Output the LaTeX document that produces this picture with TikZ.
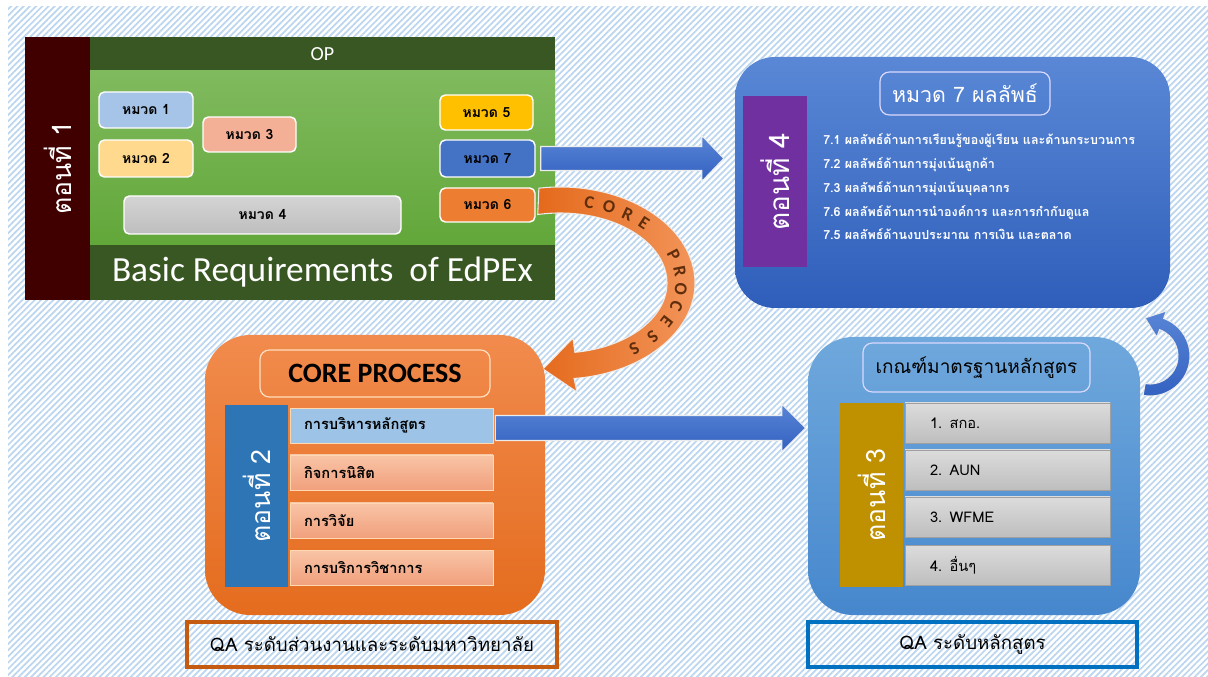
\documentclass[tikz,border=0pt]{standalone}
\usepackage{fontspec}
\setmainfont{Carlito}
\newfontfamily\thai[Script=Thai]{Loma}
\usetikzlibrary{patterns.meta,calc}
\definecolor{hatch}{RGB}{188,214,240}
\definecolor{maroonA}{RGB}{64,0,0}
\definecolor{dkgreen}{RGB}{56,87,35}
\definecolor{lgreenA}{RGB}{128,186,94}
\definecolor{lgreenB}{RGB}{98,167,58}
\definecolor{mA}{RGB}{166,196,232}
\definecolor{mB}{RGB}{255,217,142}
\definecolor{mC}{RGB}{244,176,151}
\definecolor{mDa}{RGB}{212,212,212}
\definecolor{mDb}{RGB}{190,190,190}
\definecolor{mE}{RGB}{255,192,0}
\definecolor{mG}{RGB}{68,114,196}
\definecolor{mF}{RGB}{237,125,49}
\definecolor{bFtop}{RGB}{90,136,214}
\definecolor{bFbot}{RGB}{46,94,186}
\definecolor{purpleF}{RGB}{112,48,160}
\definecolor{orTop}{RGB}{241,139,77}
\definecolor{orBot}{RGB}{228,108,30}
\definecolor{barB}{RGB}{46,117,182}
\definecolor{rowBlue}{RGB}{157,195,230}
\definecolor{rowSa}{RGB}{248,196,166}
\definecolor{rowSb}{RGB}{241,160,124}
\definecolor{bCtop}{RGB}{111,168,220}
\definecolor{bCbot}{RGB}{70,135,205}
\definecolor{goldC}{RGB}{191,144,0}
\definecolor{greyA}{RGB}{220,220,220}
\definecolor{greyB}{RGB}{190,190,190}
\definecolor{greyE}{RGB}{160,160,160}
\definecolor{qaOr}{RGB}{197,90,17}
\definecolor{qaBl}{RGB}{0,112,192}
\definecolor{arTop}{RGB}{88,133,214}
\definecolor{arBot}{RGB}{50,96,192}
\definecolor{arcL}{RGB}{228,106,28}
\definecolor{arcR}{RGB}{243,150,92}
\definecolor{letterBr}{RGB}{95,45,12}
\begin{document}
\begin{tikzpicture}[x=0.75pt,y=-0.75pt,
  wh/.style 2 args={minimum width=#1*0.75pt, minimum height=#2*0.75pt, inner sep=0pt},
  vlab/.style={rotate=90, text=white, font=\thai\fontsize{20}{24}\selectfont},
  hm/.style={draw=white, line width=1.1pt, rounded corners=4pt, font=\thai\bfseries\fontsize{10.5}{12}\selectfont},
  rowtwo/.style={wh={203}{35}, text width=175*0.75pt, align=left, draw=white!70!orange, line width=0.5pt, font=\thai\bfseries\fontsize{11}{13}\selectfont},
  rowthree/.style={wh={205}{40}, text width=155*0.75pt, align=left, top color=greyA, bottom color=greyB, draw=greyE, line width=0.5pt, font=\thai\fontsize{11}{13}\selectfont},
  titlebox/.style={draw=white!85!blue, line width=0.9pt, rounded corners=7pt},
  qabox/.style={wh={#1}{45}, line width=2.3pt, font=\thai\fontsize{14}{16}\selectfont},
  blockarrow/.style={top color=arTop, bottom color=arBot, draw=white!85!gray, line width=0.8pt}
]
\useasboundingbox (0,0) rectangle (1208,677);
\fill[white] (0,0) rectangle (1208,677);
\fill[pattern={Lines[angle=45,distance=3.3pt,line width=1.3pt]}, pattern color=hatch] (8,7) rectangle (1208,677);

% ---------- Part 1 ----------
\node[wh={263}{65}, vlab, fill=maroonA] (bar1) at (57.5,168.5) {ตอนที่ 1};
\node[wh={465}{34}, fill=dkgreen, text=white, font=\fontsize{15}{17}\selectfont] (op) at (322.5,54) {OP};
\node[wh={465}{174}, top color=lgreenA, bottom color=lgreenB] (green) at (322.5,158) {};
\node[wh={465}{55}, fill=dkgreen, text=white, font=\fontsize{26.5}{29}\selectfont] (brq) at (322.5,272.5) {Basic Requirements\ \ of EdPEx};
\node[hm, wh={94}{36}, fill=mA] (m1) at (146,110) {หมวด 1};
\node[hm, wh={94}{37}, fill=mB] (m2) at (146,158.5) {หมวด 2};
\node[hm, wh={93}{35}, fill=mC] (m3) at (249.5,134.5) {หมวด 3};
\node[hm, wh={277}{38}, top color=mDa, bottom color=mDb] (m4) at (262.5,215) {หมวด 4};
\node[hm, wh={93}{35}, fill=mE] (m5) at (486.5,112.5) {หมวด 5};
\node[hm, wh={95}{37}, fill=mG] (m7) at (487.5,158.5) {หมวด 7};
\node[hm, wh={95}{34}, fill=mF] (m6) at (487.5,205) {หมวด 6};

% ---------- Part 4 ----------
\node[wh={435}{251}, rounded corners=30pt, top color=bFtop, bottom color=bFbot] (p4) at (952.5,182.5) {};
\node[wh={171}{64}, vlab, fill=purpleF, font=\thai\fontsize{21}{24}\selectfont] (bar4) at (775,181.5) {ตอนที่ 4};
\node[wh={170}{43}, titlebox, text=white, font=\thai\fontsize{16}{18}\selectfont] (t4) at (965,93.5) {หมวด 7 ผลลัพธ์};
\node[anchor=west, align=left, inner sep=0pt, text=white, font=\thai\bfseries\fontsize{9.4}{17.8}\selectfont] (list4) at (823,187)
{7.1 ผลลัพธ์ด้านการเรียนรู้ของผู้เรียน และด้านกระบวนการ\\
7.2 ผลลัพธ์ด้านการมุ่งเน้นลูกค้า\\
7.3 ผลลัพธ์ด้านการมุ่งเน้นบุคลากร\\
7.6 ผลลัพธ์ด้านการนำองค์การ และการกำกับดูแล\\
7.5 ผลลัพธ์ด้านงบประมาณ การเงิน และตลาด};

% arrow part1 -> part4
\coordinate (a1s) at ($(m7.east)+(5,0)$);
\coordinate (a1t) at ($(m7.east -| p4.west)+(-11,0)$);
\path[blockarrow] ($(a1s)+(0,-12)$) -- ($(a1t)+(-22,-12)$) -- ($(a1t)+(-22,-23)$) -- (a1t)
  -- ($(a1t)+(-22,23)$) -- ($(a1t)+(-22,12)$) -- ($(a1s)+(0,12)$) -- cycle;

% ---------- Orange curved arrow ----------
\coordinate (oc) at (560,283);
\path[left color=arcL, right color=arcR, draw=white!85!gray, line width=0.8pt]
  ($(oc)+(-99:135 and 96)$) arc[start angle=-99, end angle=84, x radius=135, y radius=96]
  -- ($(oc)+(17,109)$) -- ($(oc)+(-17,86)$) -- ($(oc)+(13,55)$)
  -- ($(oc)+(82:107 and 70)$) arc[start angle=82, end angle=-102, x radius=107, y radius=70]
  -- cycle;
\foreach \l/\t [count=\i] in {C/-76,O/-66,R/-56,E/-46,P/-20,R/-8,O/4,C/16,E/28,S/40,S/52} {
  \pgfmathsetmacro\rot{atan2(-83*cos(\t),-121*sin(\t))}
  \node[rotate=\rot, inner sep=0pt, text=letterBr, font=\bfseries\fontsize{13.5}{15}\selectfont] (cp\i) at ($(oc)+(\t:121 and 83)$) {\l};
}

% ---------- Part 2 ----------
\node[wh={340}{280}, rounded corners=34pt, top color=orTop, bottom color=orBot] (p2) at (375,475) {};
\node[wh={230}{47}, titlebox, draw=white!75!orange, font=\bfseries\fontsize{21}{24}\selectfont] (t2) at (375,373.5) {CORE PROCESS};
\node[wh={182}{63}, vlab, fill=barB] (bar2) at (256.5,496) {ตอนที่ 2};
\node[rowtwo, fill=rowBlue] (r1) at (391.5,425.5) {การบริหารหลักสูตร};
\node[rowtwo, top color=rowSa, bottom color=rowSb] (r2) at (391.5,472.5) {กิจการนิสิต};
\node[rowtwo, top color=rowSa, bottom color=rowSb] (r3) at (391.5,520.5) {การวิจัย};
\node[rowtwo, top color=rowSa, bottom color=rowSb] (r4) at (391.5,567.5) {การบริการวิชาการ};

% ---------- Part 3 ----------
\node[wh={332}{278}, rounded corners=34pt, top color=bCtop, bottom color=bCbot] (p3) at (974,476) {};
\node[wh={227}{49}, titlebox, font=\thai\fontsize{14.3}{18}\selectfont] (t3) at (976.5,367.5) {เกณฑ์มาตรฐานหลักสูตร};
\node[wh={184}{63}, vlab, fill=goldC] (bar3) at (871.5,495) {ตอนที่ 3};
\node[rowthree] (g1) at (1007.5,423) {1. สกอ.};
\node[rowthree] (g2) at (1007.5,470) {2. AUN};
\node[rowthree] (g3) at (1007.5,517) {3. WFME};
\node[rowthree] (g4) at (1007.5,565) {4. อื่นๆ};

% arrow part2 -> part3
\coordinate (a2s) at ($(r1.east)+(2,2.5)$);
\coordinate (a2t) at ($(a2s -| p3.west)+(-2,0)$);
\path[blockarrow] ($(a2s)+(0,-12.5)$) -- ($(a2t)+(-24,-12.5)$) -- ($(a2t)+(-24,-24)$) -- (a2t)
  -- ($(a2t)+(-24,24)$) -- ($(a2t)+(-24,12.5)$) -- ($(a2s)+(0,12.5)$) -- cycle;

% blue curved arrow part3 -> part4
\coordinate (bc) at (1150,356);
\path[top color=arTop, bottom color=arBot, draw=white!85!gray, line width=0.8pt]
  ($(bc)+(100:40)$) arc[start angle=100, end angle=-70, radius=40]
  -- ($(bc)+(-70:48)$) -- ($(bc)+(-5,-38)$) -- ($(bc)+(-70:20)$)
  -- ($(bc)+(-70:28)$) arc[start angle=-70, end angle=100, radius=28] -- cycle;

% ---------- QA labels ----------
\node[qabox=370, draw=qaOr] (qa1) at (372,644.5) {QA ระดับส่วนงานและระดับมหาวิทยาลัย};
\node[qabox=329, draw=qaBl] (qa2) at (972.5,644.5) {QA ระดับหลักสูตร};
\end{tikzpicture}
\end{document}
